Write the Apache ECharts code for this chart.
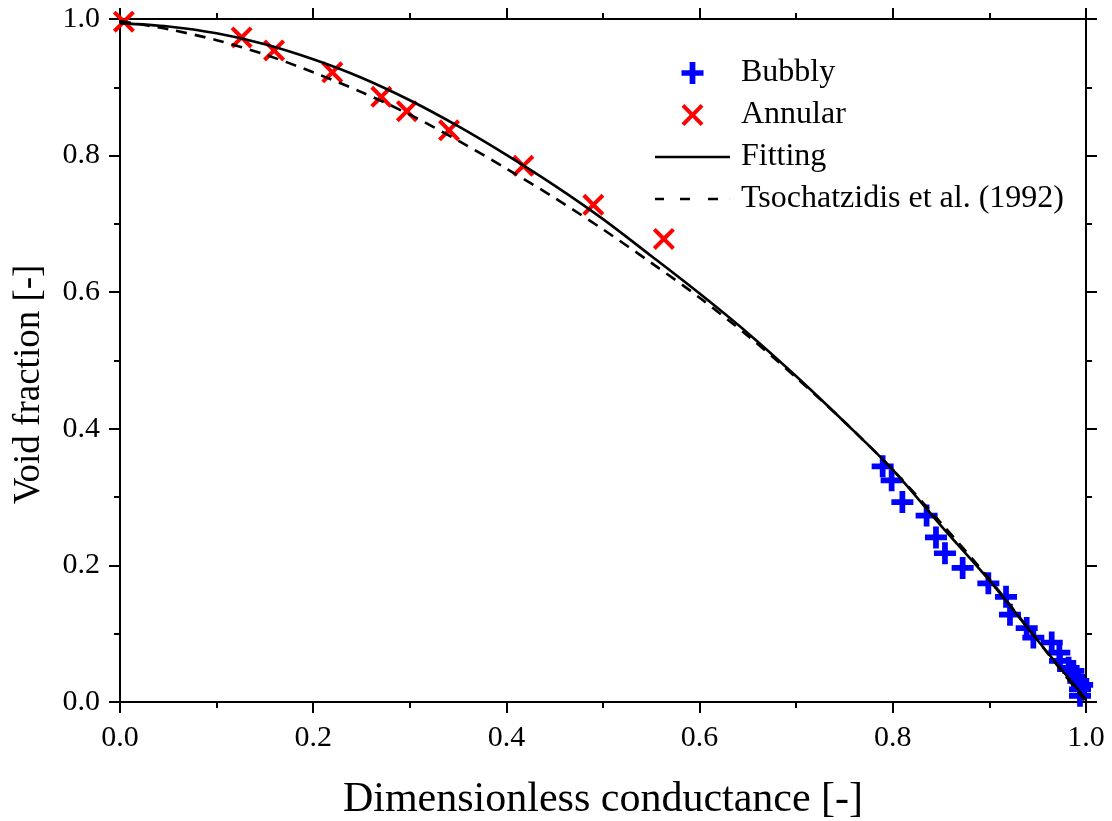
<!DOCTYPE html>
<html>
<head>
<meta charset="utf-8">
<script src="https://cdn.jsdelivr.net/npm/echarts@6/dist/echarts.min.js"></script>
<style>
html,body{margin:0;padding:0;background:#fff;}
#c{width:1112px;height:821px;}
</style>
</head>
<body>
<div id="c"></div>
<script>
// ---- data ----
const bubblyX = [0.7895,0.7988,0.8099,0.835,0.8447,0.854,0.8723,0.8989,0.9172,0.9213,0.9386,0.9455,0.9645,0.9724,0.9731,0.9869,0.992,0.9938,0.9938,0.982,0.996];
const bubblyY = [0.345,0.3245,0.2927,0.273,0.241,0.2178,0.1963,0.1737,0.154,0.1278,0.1082,0.0944,0.0871,0.0724,0.0602,0.0455,0.0308,0.0186,0.009,0.050,0.025];

const annularX = [0.004,0.1259,0.1595,0.2198,0.2705,0.297,0.3406,0.4175,0.490,0.563];
const annularY = [0.996,0.973,0.954,0.922,0.886,0.865,0.837,0.785,0.728,0.678];

const fitX = [0,0.05,0.1,0.15,0.2,0.25,0.3,0.35,0.4,0.45,0.5,0.55,0.6,0.65,0.7,0.75,0.8,0.85,0.9,0.95,1.0];
const fitY = [0.994,0.989,0.979,0.963,0.941,0.914,0.881,0.843,0.801,0.756,0.707,0.653,0.598,0.54,0.477,0.41,0.34,0.258,0.178,0.09,0.004];

const tsoX = [0,0.05,0.1,0.15,0.2,0.25,0.3,0.35,0.4,0.45,0.5,0.55,0.6,0.65,0.7,0.75,0.8,0.85,0.9,0.95,1.0];
const tsoY = [0.997,0.985,0.969,0.948,0.922,0.893,0.86,0.822,0.781,0.738,0.692,0.643,0.592,0.536,0.475,0.41,0.34,0.262,0.18,0.09,0.0];

const seriesNames = ['Bubbly','Annular','Fitting','Tsochatzidis et al. (1992)'];
const xTitle = 'Dimensionless conductance [-]';
const yTitle = 'Void fraction [-]';

const zip = (a,b) => a.map((v,i) => [v,b[i]]);
const FONT = 'Liberation Serif';
const PLUS = 'path://M37,0h26v37h37v26h-37v37h-26v-37h-37v-26h37z';
const CROSS = 'path://M0,13L13,0L50,37L87,0L100,13L63,50L100,87L87,100L50,63L13,100L0,87L37,50Z';
const SOLID_ICON = 'path://M0,0h75v2.6h-75z';
const DASH_ICON = 'path://M0,0h9v2.6h-9zM25,0h10v2.6h-10zM53,0h10v2.6h-10zM74.9,0h0.1v2.6h-0.1z';

const axisLine = {show:true, onZero:false, lineStyle:{color:'#000', width:2}};
const axisTick = {show:true, inside:false, length:11, lineStyle:{color:'#000', width:2}};
const minorTick = {show:true, splitNumber:2, length:6, lineStyle:{color:'#000', width:2}};
const lbl = {color:'#000', fontFamily:FONT, fontSize:30, margin:20, formatter: v => v.toFixed(1)};

const chart = echarts.init(document.getElementById('c'), null, {renderer:'canvas'});
chart.setOption({
  animation:false,
  backgroundColor:'#fff',
  grid:{left:120, right:26, top:19, bottom:119, containLabel:false, outerBoundsMode:'none'},
  xAxis:[
    {type:'value', min:0, max:1, interval:0.2, position:'bottom',
     axisLine, axisTick, minorTick, splitLine:{show:false}, minorSplitLine:{show:false},
     axisLabel:Object.assign({}, lbl, {margin:21}),
     name:xTitle, nameLocation:'middle', nameGap:77,
     nameTextStyle:{color:'#000', fontFamily:FONT, fontSize:42}},
    {type:'value', min:0, max:1, interval:0.2, position:'top',
     axisLine, axisTick, minorTick, splitLine:{show:false}, axisLabel:{show:false}}
  ],
  yAxis:[
    {type:'value', min:0, max:1, interval:0.2, position:'left',
     axisLine, axisTick, minorTick, splitLine:{show:false}, minorSplitLine:{show:false},
     axisLabel:lbl,
     name:yTitle, nameLocation:'middle', nameGap:72, nameRotate:90,
     nameTextStyle:{color:'#000', fontFamily:FONT, fontSize:37, padding:[0,48,0,0]}},
    {type:'value', min:0, max:1, interval:0.2, position:'right',
     axisLine, axisTick, minorTick, splitLine:{show:false}, axisLabel:{show:false}}
  ],
  legend:{
    orient:'vertical', left:650, top:52, itemWidth:75, itemHeight:22, itemGap:10,
    textStyle:{color:'#000', fontFamily:FONT, fontSize:32, lineHeight:32, padding:[0,0,0,6]},
    data:[
      {name:seriesNames[0]},
      {name:seriesNames[1]},
      {name:seriesNames[2], icon:SOLID_ICON},
      {name:seriesNames[3], icon:DASH_ICON}
    ]
  },
  series:[
    {name:seriesNames[0], type:'scatter', data:zip(bubblyX,bubblyY), symbol:PLUS, symbolSize:22,
     itemStyle:{color:'#0000ff', opacity:1}, clip:false, z:2},
    {name:seriesNames[1], type:'scatter', data:zip(annularX,annularY), symbol:CROSS, symbolSize:22,
     itemStyle:{color:'#ff0000', opacity:1}, clip:false, z:2},
    {name:seriesNames[2], type:'line', data:zip(fitX,fitY), smooth:0.3, symbol:'none', showSymbol:false,
     lineStyle:{color:'#000', width:2.6}, itemStyle:{color:'#000'}, z:3},
    {name:seriesNames[3], type:'line', data:zip(tsoX,tsoY), smooth:0.3, symbol:'none', showSymbol:false,
     lineStyle:{color:'#000', width:2.6, type:[11,8]}, itemStyle:{color:'#000'}, z:3}
  ]
});
</script>
</body>
</html>
